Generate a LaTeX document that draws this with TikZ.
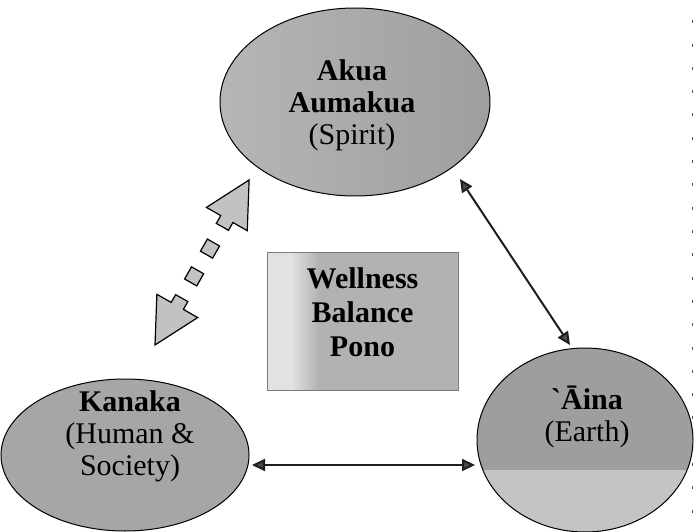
\documentclass[tikz,border=0pt]{standalone}
\usepackage{fontspec}
\setmainfont{Liberation Serif}
\usetikzlibrary{shapes.geometric,arrows.meta,calc}
\definecolor{orbgray}{HTML}{A6A6A6}
\definecolor{orblight}{HTML}{B6B6B6}
\definecolor{orbdark}{HTML}{9E9E9E}
\definecolor{soilgray}{HTML}{C4C4C4}
\definecolor{boxgray}{HTML}{B2B2B2}
\definecolor{boxlight}{HTML}{E2E2E2}
\definecolor{boxedge}{HTML}{7A7A7A}
\definecolor{blockgray}{HTML}{C2C2C2}
\definecolor{linkgray}{HTML}{1E1E1E}
\definecolor{tipgray}{HTML}{4C4C4C}
\definecolor{rulegray}{HTML}{555555}
\begin{document}
\begin{tikzpicture}[x=1pt,y=-1pt,
  orb/.style={ellipse, draw=black, line width=1pt, inner sep=0pt, outer sep=0pt},
  lbl/.style={align=center, inner sep=0pt, text=black, font=\fontsize{30}{32}\selectfont},
  boxlbl/.style={align=center, inner sep=0pt, text=black, font=\fontsize{30}{34}\selectfont\bfseries},
  linktip/.style={Triangle[length=13pt,width=12pt,fill=tipgray]},
  link/.style={line width=2pt, draw=linkgray, {Triangle[length=13pt,width=12pt,fill=tipgray]}-{Triangle[length=13pt,width=12pt,fill=tipgray]}},
  blockpart/.style={draw=black, line width=1.2pt, fill=blockgray, line join=miter},
  rightrule/.style={draw=rulegray, line width=1.3pt, dash pattern=on 3pt off 20.3pt, dash phase=3pt}]

\useasboundingbox (0,0) rectangle (694,532);
\fill[white] (0,0) rectangle (694,532);
\clip (0,0) rectangle (694,532);

% the three realms
\node[orb, minimum width=270pt, minimum height=188pt,
      left color=orblight, right color=orbdark] (akua) at (355,102) {};
\node[orb, minimum width=248pt, minimum height=152pt, fill=orbgray] (kanaka) at (125,455) {};
\node[orb, minimum width=216pt, minimum height=184pt, fill=orbdark,
      path picture={\fill[soilgray] (path picture bounding box.south west)
        rectangle ([yshift=-30pt]path picture bounding box.east);}] (aina) at (585,440) {};

\node[lbl] (akuaText) at (352,105) {\textbf{Akua}\\\textbf{Aumakua}\\(Spirit)};
\node[lbl] (kanakaText) at (130,436) {\textbf{Kanaka}\\(Human \&\\Society)};
\node[lbl] (ainaText) at (587,417) {\textbf{\textasciigrave Āina}\\(Earth)};

% centre panel
\node[fill=boxgray, minimum width=191pt, minimum height=138pt, inner sep=0pt, outer sep=0pt,
      anchor=north west] (box) at (267,252) {};
\fill[boxlight] (box.north west) rectangle ([xshift=24pt]box.south west);
\shade[left color=boxlight, right color=boxgray] ([xshift=24pt]box.north west) rectangle ([xshift=52pt]box.south west);
\draw[boxedge, line width=0.8pt] (box.north west) rectangle (box.south east);
\node[boxlbl] (boxText) at ([yshift=9pt]box.center) {Wellness\\Balance\\Pono};

% links between the realms
\coordinate (d1) at (460,179);
\coordinate (d2) at (570,345);
\draw[link] (d1) -- (d2);

\coordinate (h1) at (252,465);
\coordinate (h2) at (475,465);
\draw[link] (h1) -- (h2);

% dashed block arrow between Kanaka and Akua
\coordinate (dlo) at (155,345);
\coordinate (dhi) at (249,180);
\begin{scope}[shift={(dlo)}, rotate=60.3]
  \draw[blockpart] (0,0) -- (45,23.5) -- (45,7) -- (54,7) -- (54,-7) -- (45,-7) -- (45,-23.5) -- cycle;
  \draw[blockpart] (72,-7) rectangle (86,7);
  \draw[blockpart] (104,-7) rectangle (118,7);
  \draw[blockpart] (190,0) -- (145,23.5) -- (145,7) -- (136,7) -- (136,-7) -- (145,-7) -- (145,-23.5) -- cycle;
\end{scope}

% dotted rule along the right edge
\draw[rightrule] (692.5,0) -- (692.5,532);
\end{tikzpicture}
\end{document}
